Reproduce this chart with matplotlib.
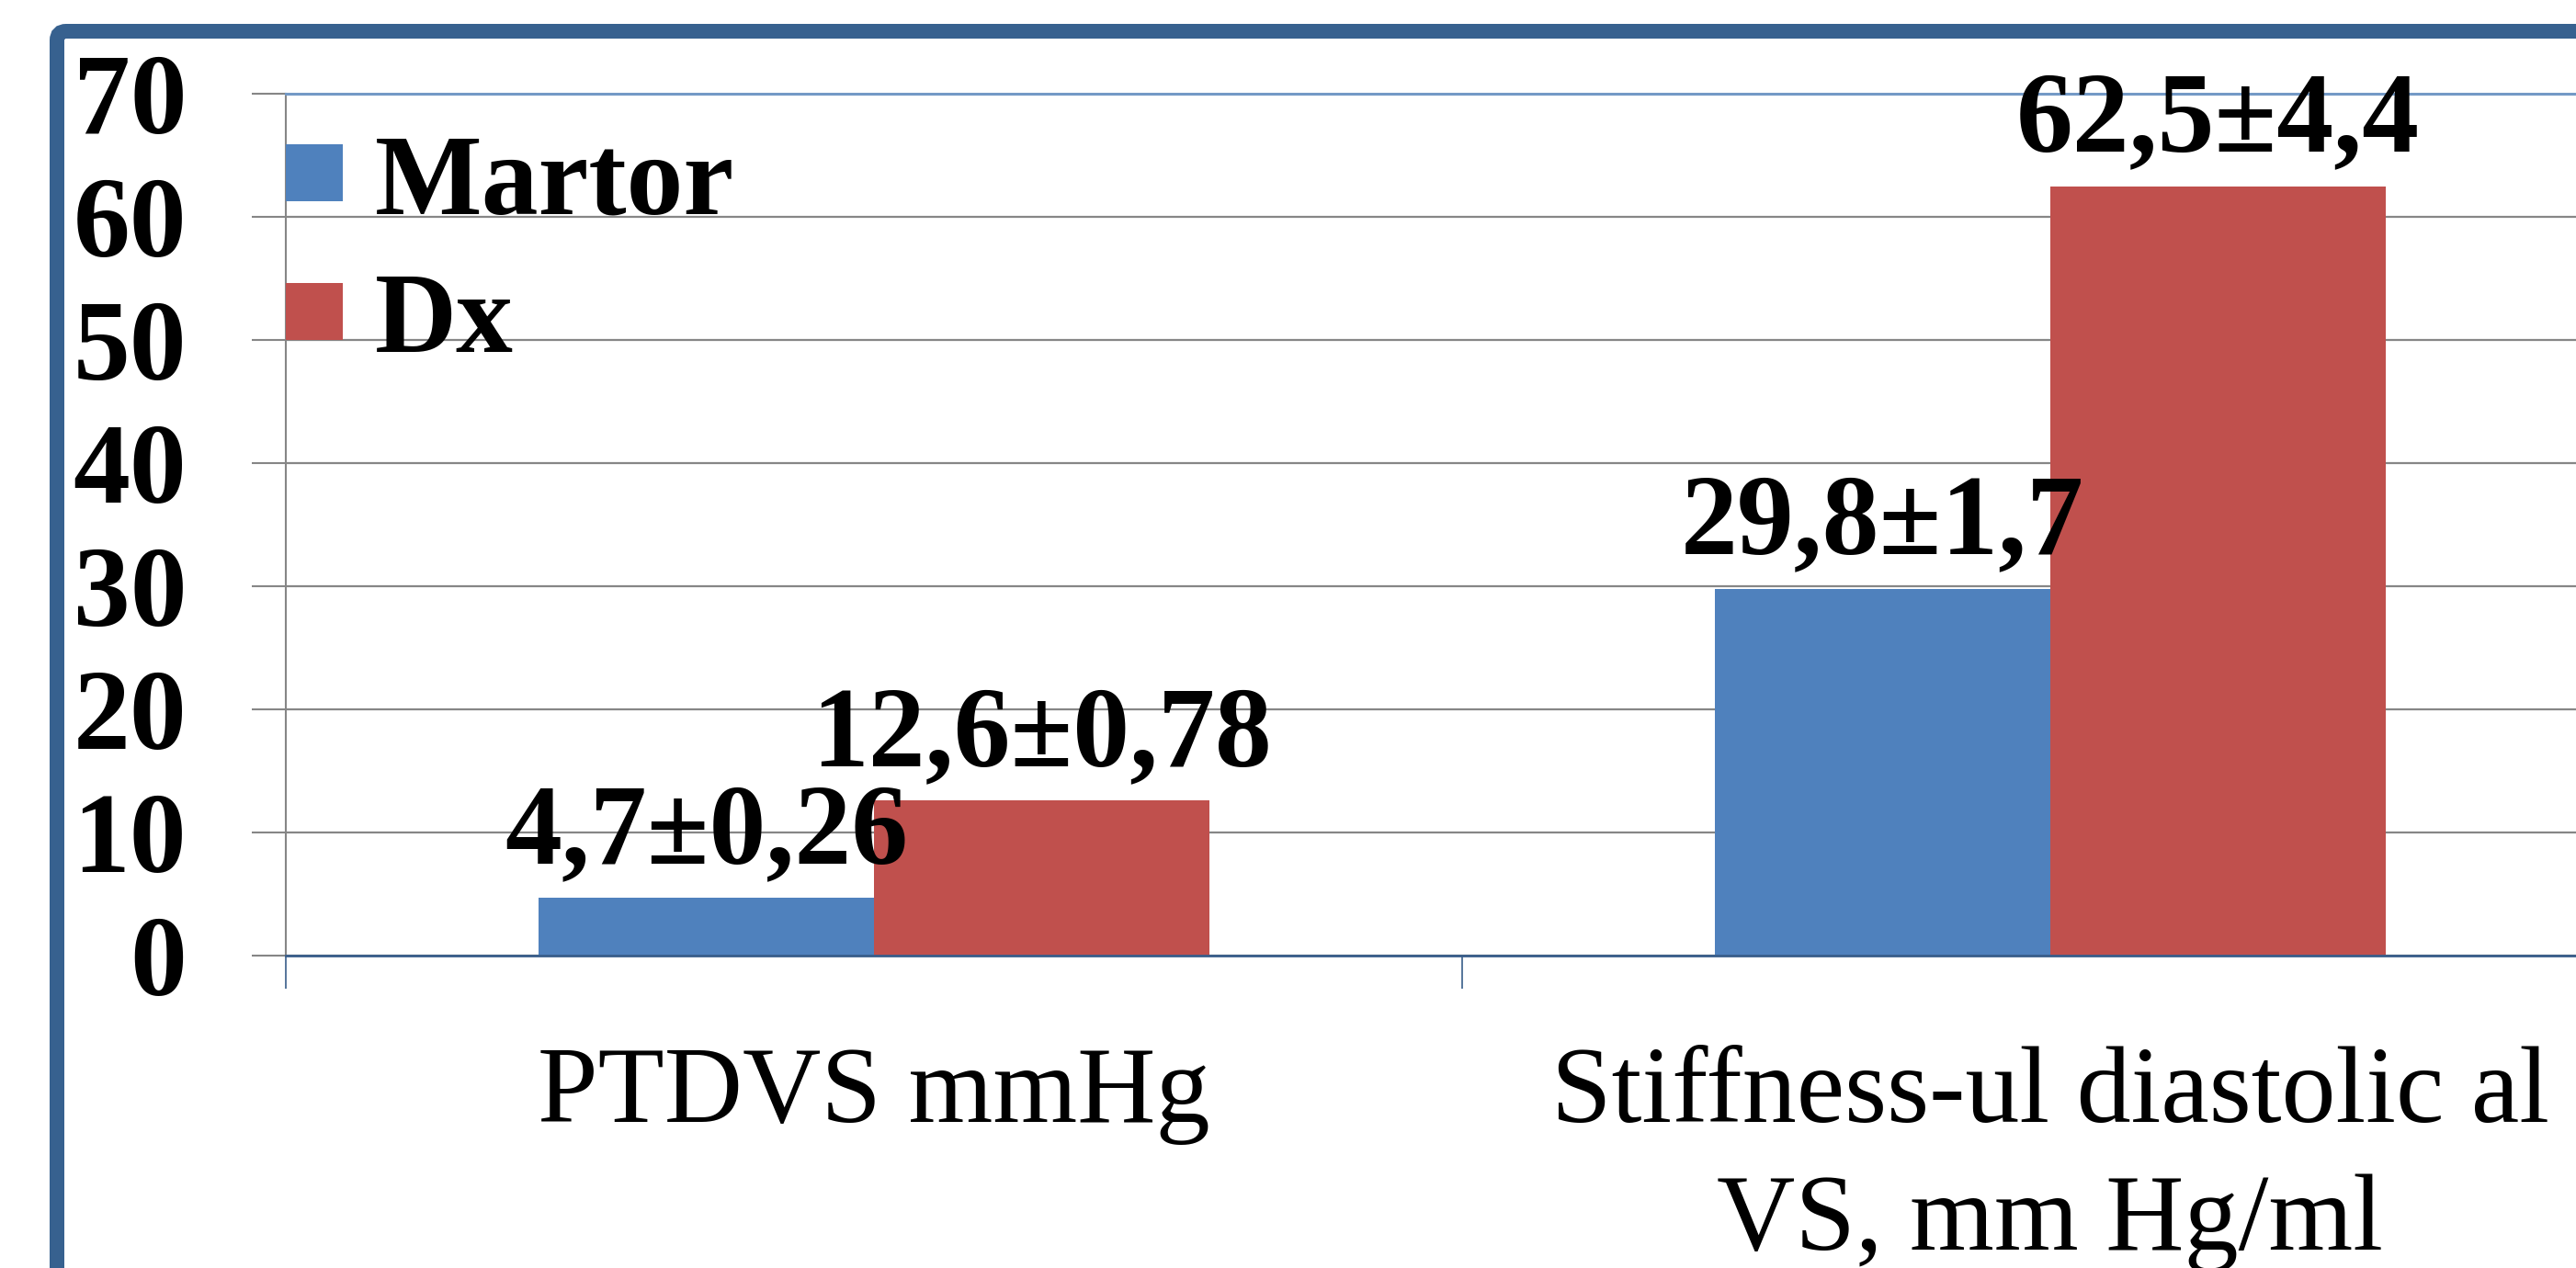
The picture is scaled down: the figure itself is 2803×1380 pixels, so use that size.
import matplotlib
matplotlib.use('Agg')
import matplotlib.pyplot as plt
from matplotlib.patches import FancyBboxPatch
from matplotlib.transforms import IdentityTransform
import numpy as np

# ---- data ----
categories = ["PTDVS mmHg", "Stiffness-ul diastolic al\nVS, mm Hg/ml"]
series_names = ["Martor", "Dx"]
martor_values = [4.7, 29.8]
dx_values = [12.6, 62.5]
martor_labels = ["4,7±0,26", "29,8±1,7"]
dx_labels = ["12,6±0,78", "62,5±4,4"]
y_ticks = [0, 10, 20, 30, 40, 50, 60, 70]

# ---- style ----
FONT = 'Liberation Serif'
FSB = 89      # bold texts
FSR = 85      # category labels
BLUE = '#4F81BD'
RED = '#C0504D'
GRID = '#868686'
AXBLUE = '#385D8A'

W, H = 2803, 1380
fig = plt.figure(figsize=(W / 100, H / 100), dpi=100)
fig.patch.set_facecolor('white')

# outer frame (rounded border extending beyond the image)
border = FancyBboxPatch((62, -200), 3200, H - 34 + 200,
                        boxstyle='round,pad=0,rounding_size=10',
                        transform=IdentityTransform(),
                        facecolor='none', edgecolor='#37618F',
                        linewidth=16 * 72 / 100)
fig.add_artist(border)

ax = fig.add_axes([311 / W, 340 / H, 2560 / W, 938 / H])
ax.set_facecolor('none')

x = np.arange(len(categories))
bw = 0.285
b1 = ax.bar(x - bw / 2, martor_values, bw, color=BLUE, zorder=2)
b2 = ax.bar(x + bw / 2, dx_values, bw, color=RED, zorder=2)

lab_kw = dict(fontsize=FSB, fontweight='bold', family=FONT, padding=8, zorder=5)
ax.bar_label(b1, labels=martor_labels, **lab_kw)
ax.bar_label(b2, labels=dx_labels, **lab_kw)

ax.set_xlim(-0.5, 1.5)
ax.set_ylim(0, 70)

ax.set_yticks(y_ticks)
ax.set_yticklabels([str(v) for v in y_ticks], fontsize=FSB, fontweight='bold', family=FONT)
ax.tick_params(axis='y', length=37 * 0.72, width=1.5, color=GRID, pad=51)

ax.set_xticks(x)
ax.set_xticklabels(categories, fontsize=FSR, family=FONT, linespacing=1.38)
ax.tick_params(axis='x', which='major', length=0, pad=71)
ax.set_xticks([-0.5, 0.5, 1.5], minor=True)
ax.tick_params(axis='x', which='minor', length=36 * 0.72, width=1.2, color=AXBLUE)

ax.yaxis.grid(True, color=GRID, linewidth=1.6)
ax.set_axisbelow(True)

ax.spines['left'].set_color(GRID)
ax.spines['left'].set_linewidth(1.5)
ax.spines['bottom'].set_color(AXBLUE)
ax.spines['bottom'].set_linewidth(2)
ax.spines['top'].set_color('#7399C6')
ax.spines['top'].set_linewidth(2.2)
ax.spines['right'].set_visible(False)

leg = ax.legend(handles=[b1, b2], labels=series_names, loc='upper left',
                bbox_to_anchor=(0.0, 0.954), frameon=False, borderpad=0,
                borderaxespad=0, handlelength=0.5, handleheight=0.392,
                handletextpad=0.28, labelspacing=0.30,
                prop={'family': FONT, 'weight': 'bold', 'size': FSB})

fig.savefig('out.png', dpi=100)
